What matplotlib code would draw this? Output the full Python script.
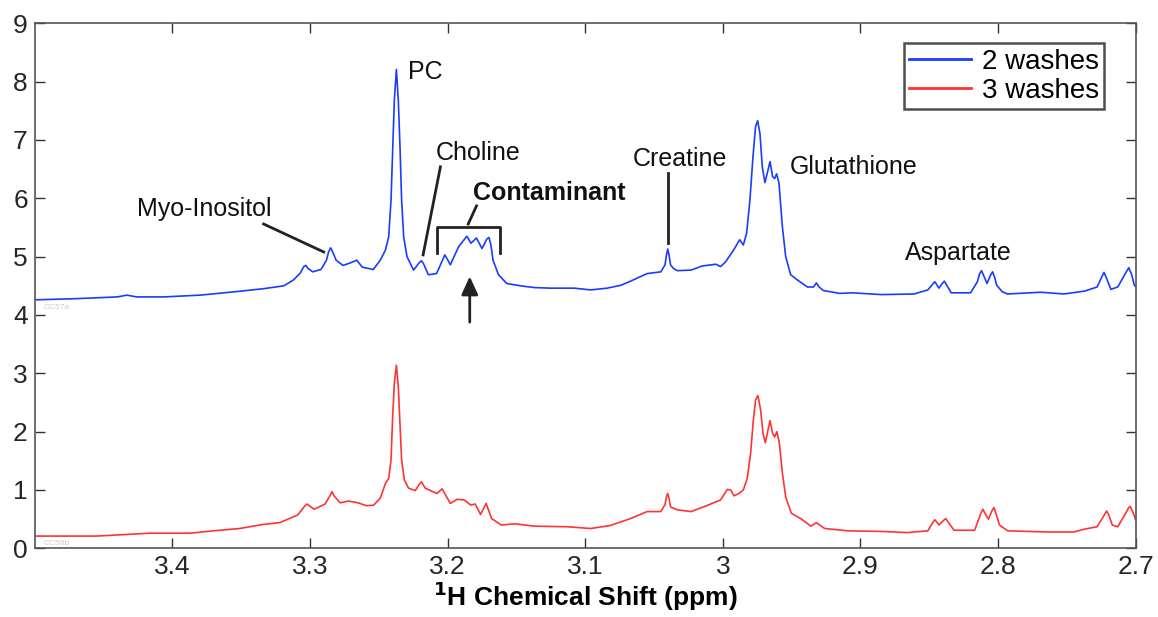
import matplotlib
matplotlib.use("Agg")
import matplotlib.pyplot as plt

plt.rcParams['font.family'] = ['Liberation Sans', 'DejaVu Sans']

# spectra: (chemical shift in ppm, intensity)
washes2 = [
    (3.500, 4.26), (3.470, 4.28), (3.440, 4.31), (3.433, 4.34), (3.426, 4.31),
    (3.406, 4.31), (3.380, 4.34), (3.358, 4.39), (3.334, 4.45), (3.319, 4.50),
    (3.312, 4.60), (3.307, 4.72), (3.3045, 4.83), (3.303, 4.85), (3.3015, 4.80),
    (3.298, 4.74), (3.292, 4.78), (3.288, 4.94), (3.2865, 5.08), (3.285, 5.15),
    (3.2835, 5.08), (3.281, 4.94), (3.276, 4.85), (3.271, 4.89), (3.266, 4.94),
    (3.262, 4.82), (3.254, 4.78), (3.2489, 4.94), (3.2452, 5.11), (3.2428, 5.34),
    (3.2411, 5.97), (3.2399, 6.83), (3.2387, 7.68), (3.2372, 8.21), (3.2358, 7.68),
    (3.2345, 6.83), (3.2334, 5.97), (3.2319, 5.34), (3.2295, 5.00), (3.2247, 4.77),
    (3.2205, 4.90), (3.219, 4.93), (3.2175, 4.88), (3.214, 4.69), (3.208, 4.71),
    (3.2035, 4.95), (3.202, 5.03), (3.2005, 4.97), (3.198, 4.86), (3.192, 5.17),
    (3.186, 5.35), (3.183, 5.23), (3.179, 5.32), (3.175, 5.14), (3.1715, 5.30),
    (3.170, 5.33), (3.1685, 5.20), (3.167, 4.94), (3.163, 4.69), (3.157, 4.54),
    (3.147, 4.50), (3.137, 4.47), (3.125, 4.46), (3.108, 4.46), (3.096, 4.43),
    (3.084, 4.46), (3.074, 4.51), (3.067, 4.58), (3.055, 4.71), (3.045, 4.74),
    (3.042, 4.86), (3.041, 5.02), (3.040, 5.13), (3.039, 5.02), (3.038, 4.86),
    (3.036, 4.80), (3.033, 4.76), (3.023, 4.77), (3.015, 4.84), (3.005, 4.87),
    (3.0016, 4.83), (2.9980, 4.91), (2.9931, 5.08), (2.9907, 5.17), (2.9878, 5.29),
    (2.9851, 5.20), (2.9827, 5.40), (2.9803, 5.97), (2.9781, 6.71), (2.9762, 7.23),
    (2.9747, 7.33), (2.9730, 7.11), (2.9713, 6.54), (2.9694, 6.27), (2.9674, 6.46),
    (2.9657, 6.63), (2.9638, 6.37), (2.9623, 6.34), (2.9609, 6.42), (2.9592, 6.26),
    (2.9567, 5.51), (2.9543, 5.00), (2.9507, 4.69), (2.9458, 4.60), (2.9385, 4.48),
    (2.934, 4.48), (2.932, 4.55), (2.930, 4.48), (2.927, 4.42), (2.915, 4.37),
    (2.906, 4.38), (2.885, 4.35), (2.861, 4.36), (2.851, 4.43), (2.8475, 4.53),
    (2.846, 4.57), (2.8445, 4.52), (2.843, 4.46), (2.8405, 4.54), (2.839, 4.58),
    (2.8375, 4.52), (2.834, 4.38), (2.820, 4.38), (2.815, 4.57), (2.8135, 4.70),
    (2.812, 4.76), (2.8105, 4.68), (2.808, 4.54), (2.8055, 4.68), (2.804, 4.74),
    (2.8025, 4.65), (2.801, 4.51), (2.797, 4.40), (2.793, 4.36), (2.769, 4.39),
    (2.752, 4.36), (2.737, 4.41), (2.728, 4.48), (2.7245, 4.66), (2.723, 4.73),
    (2.7215, 4.65), (2.718, 4.44), (2.713, 4.48), (2.708, 4.69), (2.705, 4.81),
    (2.703, 4.70), (2.701, 4.51), (2.700, 4.49),
]

washes3 = [
    (3.500, 0.21), (3.455, 0.21), (3.416, 0.26), (3.387, 0.26), (3.370, 0.30),
    (3.351, 0.34), (3.334, 0.41), (3.322, 0.44), (3.309, 0.57), (3.304, 0.72),
    (3.302, 0.76), (3.300, 0.72), (3.297, 0.67), (3.289, 0.76), (3.2855, 0.90),
    (3.284, 0.97), (3.2825, 0.90), (3.278, 0.78), (3.272, 0.81), (3.265, 0.78),
    (3.259, 0.73), (3.2537, 0.74), (3.2489, 0.86), (3.2452, 1.11), (3.2428, 1.20),
    (3.2411, 1.51), (3.2399, 2.26), (3.2387, 2.83), (3.2372, 3.14), (3.2358, 2.77),
    (3.2345, 2.08), (3.2334, 1.51), (3.2314, 1.17), (3.2283, 1.03), (3.2235, 0.99),
    (3.2205, 1.10), (3.219, 1.14), (3.2175, 1.08), (3.2162, 1.03), (3.2077, 0.94),
    (3.204, 1.02), (3.198, 0.77), (3.193, 0.84), (3.188, 0.83), (3.183, 0.74),
    (3.180, 0.76), (3.176, 0.58), (3.172, 0.77), (3.168, 0.51), (3.161, 0.40),
    (3.151, 0.42), (3.137, 0.38), (3.113, 0.37), (3.096, 0.34), (3.082, 0.39),
    (3.067, 0.51), (3.055, 0.63), (3.045, 0.63), (3.042, 0.75), (3.041, 0.88),
    (3.040, 0.94), (3.039, 0.85), (3.038, 0.71), (3.033, 0.66), (3.023, 0.63),
    (3.014, 0.71), (3.0016, 0.83), (2.9967, 1.01), (2.9943, 1.00), (2.9919, 0.90),
    (2.9883, 0.94), (2.9851, 1.00), (2.9822, 1.20), (2.9798, 1.63), (2.9778, 2.20),
    (2.9762, 2.54), (2.9745, 2.62), (2.9725, 2.37), (2.9708, 1.97), (2.9691, 1.81),
    (2.9674, 2.00), (2.9657, 2.19), (2.9638, 1.97), (2.9623, 1.91), (2.9607, 2.00),
    (2.9589, 1.80), (2.9567, 1.29), (2.9543, 0.88), (2.9502, 0.60), (2.9434, 0.51),
    (2.936, 0.38), (2.932, 0.44), (2.926, 0.34), (2.909, 0.30), (2.885, 0.29),
    (2.866, 0.27), (2.851, 0.30), (2.8475, 0.44), (2.846, 0.49), (2.8445, 0.45),
    (2.843, 0.40), (2.8395, 0.48), (2.838, 0.51), (2.8365, 0.46), (2.832, 0.31),
    (2.817, 0.31), (2.8125, 0.60), (2.811, 0.67), (2.8095, 0.60), (2.807, 0.50),
    (2.8045, 0.64), (2.803, 0.70), (2.8015, 0.60), (2.799, 0.40), (2.793, 0.30),
    (2.764, 0.28), (2.745, 0.28), (2.737, 0.33), (2.728, 0.37), (2.7225, 0.58),
    (2.721, 0.64), (2.7195, 0.57), (2.717, 0.40), (2.713, 0.37), (2.708, 0.57),
    (2.705, 0.70), (2.704, 0.72), (2.702, 0.62), (2.700, 0.49),
]

x_ticks = [3.4, 3.3, 3.2, 3.1, 3.0, 2.9, 2.8, 2.7]
x_ticklabels = ['3.4', '3.3', '3.2', '3.1', '3', '2.9', '2.8', '2.7']

ppm_2w, int_2w = zip(*washes2)
ppm_3w, int_3w = zip(*washes3)

fig = plt.figure(figsize=(11.58, 6.17), dpi=100)
ax = fig.add_axes([0.030, 0.1113, 0.9507, 0.8509])

ax.plot(ppm_2w, int_2w, color='#1a3cff', linewidth=1.2, label='2 washes')
ax.plot(ppm_3w, int_3w, color='#ff3333', linewidth=1.2, label='3 washes')

ax.set_xlim(3.5, 2.7)
ax.set_ylim(0, 9)
ax.set_xticks(x_ticks)
ax.set_xticklabels(x_ticklabels)
ax.set_yticks(range(10))
ax.tick_params(direction='in', length=7, width=1, top=True, right=True,
               labelsize=19, colors='#333333', labelcolor='#262626', pad=5)
for s in ax.spines.values():
    s.set_color('#555555')
    s.set_linewidth(1.2)

ax.set_xlabel('$\\mathbf{^1}$H Chemical Shift (ppm)', fontsize=19,
              fontweight='bold', labelpad=0)

# labels and pointer lines
tc = '#111111'
lc = '#222222'
ax.text(3.377, 5.82, 'Myo-Inositol', fontsize=18, ha='center', va='center', color=tc)
ax.plot([3.3337, 3.290], [5.56, 5.08], color=lc, lw=2)
ax.text(3.229, 8.17, 'PC', fontsize=18, ha='left', va='center', color=tc)
ax.text(3.1776, 6.78, 'Choline', fontsize=18, ha='center', va='center', color=tc)
ax.plot([3.2052, 3.2178], [6.54, 5.03], color=lc, lw=2)
ax.text(3.1259, 6.09, 'Contaminant', fontsize=18, ha='center', va='center',
        fontweight='bold', color=tc)
ax.plot([3.2077, 3.2077, 3.1621, 3.1621], [5.06, 5.50, 5.50, 5.06], color=lc, lw=2)
ax.plot([3.179, 3.185], [5.87, 5.56], color=lc, lw=2)
ax.annotate('', xy=(3.1839, 4.71), xytext=(3.1839, 3.83),
            arrowprops=dict(arrowstyle='-|>,head_length=1.1,head_width=0.5',
                            color=lc, lw=2))
ax.text(3.0314, 6.68, 'Creatine', fontsize=18, ha='center', va='center', color=tc)
ax.plot([3.0397, 3.0397], [6.43, 5.23], color=lc, lw=2)
ax.text(2.905, 6.53, 'Glutathione', fontsize=18, ha='center', va='center', color=tc)
ax.text(2.8285, 5.06, 'Aspartate', fontsize=18, ha='center', va='center', color=tc)

ax.text(3.4838, 4.12, 'CC57a', fontsize=6, color='#cccccc', ha='center', va='center')
ax.text(3.4838, 0.09, 'CC58b', fontsize=6, color='#cccccc', ha='center', va='center')

leg = ax.legend(loc='upper left', bbox_to_anchor=(0.7806, 0.9298),
                bbox_transform=fig.transFigure, fontsize=20, frameon=True,
                fancybox=False, handlelength=2.2, handletextpad=0.4,
                labelspacing=0.1, borderpad=0.2, borderaxespad=0)
leg.get_frame().set_edgecolor('#222222')
leg.get_frame().set_linewidth(1.8)
for line in leg.get_lines():
    line.set_linewidth(2)

fig.savefig('out.png', dpi=100)
